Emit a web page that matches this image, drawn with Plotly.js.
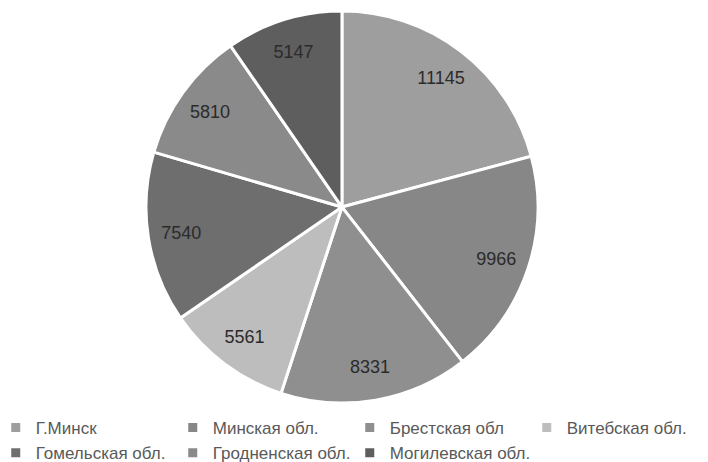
<!DOCTYPE html>
<html><head><meta charset="utf-8">
<script src="https://cdn.plot.ly/plotly-3.0.1.min.js"></script>
<style>html,body{margin:0;padding:0;background:#fff}#c{width:708px;height:462px}</style>
</head><body><div id="c"></div>
<script>
const regions = ["Г.Минск","Минская обл.","Брестская обл","Витебская обл.","Гомельская обл.","Гродненская обл.","Могилевская обл."];
const values = [11145, 9966, 8331, 5561, 7540, 5810, 5147];
const colors = ["#9e9e9e","#878787","#8f8f8f","#bdbdbd","#6e6e6e","#8a8a8a","#5e5e5e"];

const base = {
  type: "pie", labels: regions, values: values, sort: false, direction: "clockwise",
  domain: {x: [0.206, 0.760], y: [0.017, 0.973]}
};
const data = [
  Object.assign({}, base, {
    marker: {colors: colors, line: {color: "#ffffff", width: 3}},
    textinfo: "none", hoverinfo: "label+value"
  }),
  Object.assign({}, base, {
    hole: 0.66, showlegend: false,
    marker: {colors: regions.map(() => "rgba(0,0,0,0)"), line: {width: 0}},
    text: values.map(String), textinfo: "text", textposition: "inside", insidetextorientation: "horizontal",
    textfont: {family: "Liberation Sans, Arial, sans-serif", size: 18, color: "#2b2b2b"},
    hoverinfo: "skip"
  })
];
const layout = {
  width: 708, height: 462, margin: {l: 0, r: 0, t: 0, b: 52, autoexpand: false},
  paper_bgcolor: "#fff", showlegend: true,
  legend: {orientation: "h", x: -0.006, xanchor: "left", y: 0, yanchor: "top",
    entrywidth: 132, entrywidthmode: "pixels", itemwidth: 30, traceorder: "normal",
    font: {family: "Liberation Sans, Arial, sans-serif", size: 17, color: "#595959"}}
};
Plotly.newPlot("c", data, layout, {displayModeBar: false, staticPlot: true});
</script></body></html>
